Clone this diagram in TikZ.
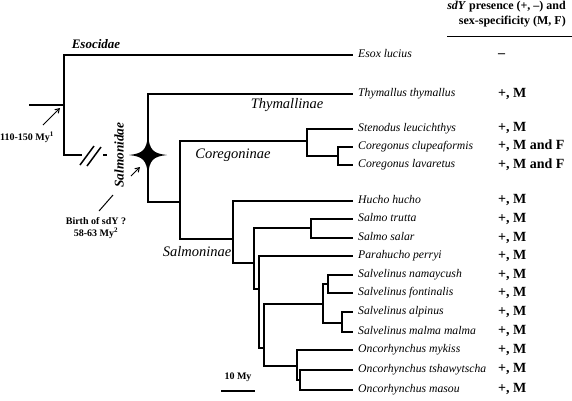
\documentclass[tikz,border=0pt]{standalone}
\usepackage{fontspec}
\setmainfont{Liberation Serif}
\usetikzlibrary{arrows.meta}
\begin{document}
\begin{tikzpicture}[x=1pt,y=-1pt,
  branch/.style={line width=1.7pt},
  leaf/.style={anchor=west, inner xsep=5pt, inner ysep=0pt, font=\itshape\fontsize{11.7}{13}\selectfont, text height=1.6ex, text depth=.3ex},
  val/.style={anchor=west, inner sep=0pt, font=\bfseries\fontsize{14}{16}\selectfont, text height=1.6ex, text depth=.3ex},
  clade/.style={font=\itshape\fontsize{14.5}{16}\selectfont, inner sep=0pt},
  note/.style={font=\bfseries\fontsize{10}{11.5}\selectfont, inner sep=0pt, align=center},
  pointer/.style={line width=1pt, -{Straight Barb[length=4pt,width=5pt]}},
  breakmark/.style={line width=1.5pt}
]
\useasboundingbox (0,0) rectangle (572,400);
\fill[white] (0,0) rectangle (572,400);

% header
\node[anchor=north east, align=right, inner sep=0pt, font=\bfseries\fontsize{12}{15}\selectfont] (hdr) at (566,1) {\textit{sdY} presence (+, --) and\\sex-specificity (M, F)};
\draw[line width=1pt] (447,36) -- (572,36);

% leaves
\node[leaf] (esox) at (353,55) {Esox lucius};
\node[leaf] (thym) at (353,94) {Thymallus thymallus};
\node[leaf] (sten) at (353,129) {Stenodus leucichthys};
\node[leaf] (clup) at (353,147) {Coregonus clupeaformis};
\node[leaf] (lav) at (353,165) {Coregonus lavaretus};
\node[leaf] (hucho) at (353,201) {Hucho hucho};
\node[leaf] (trutta) at (353,219) {Salmo trutta};
\node[leaf] (salar) at (353,238) {Salmo salar};
\node[leaf] (para) at (353,256) {Parahucho perryi};
\node[leaf] (namay) at (353,275) {Salvelinus namaycush};
\node[leaf] (fonti) at (353,293) {Salvelinus fontinalis};
\node[leaf] (alpin) at (353,312) {Salvelinus alpinus};
\node[leaf] (malma) at (353,332) {Salvelinus malma malma};
\node[leaf] (mykiss) at (353,350) {Oncorhynchus mykiss};
\node[leaf] (tshaw) at (353,370) {Oncorhynchus tshawytscha};
\node[leaf] (masou) at (353,390) {Oncorhynchus masou};

% values
\node[val] (vesox) at (498,55) {--};
\node[val] (vthym) at (498,95) {+, M};
\node[val] (vsten) at (498,129) {+, M};
\node[val] (vclup) at (498,147) {+, M and F};
\node[val] (vlav) at (498,166) {+, M and F};
\node[val] (vhucho) at (498,201) {+, M};
\node[val] (vtrutta) at (498,220) {+, M};
\node[val] (vsalar) at (498,239) {+, M};
\node[val] (vpara) at (498,257) {+, M};
\node[val] (vnamay) at (498,276) {+, M};
\node[val] (vfonti) at (498,294) {+, M};
\node[val] (valpin) at (498,313) {+, M};
\node[val] (vmalma) at (498,332) {+, M};
\node[val] (vmykiss) at (498,351) {+, M};
\node[val] (vtshaw) at (498,370) {+, M};
\node[val] (vmasou) at (498,390) {+, M};

% internal nodes
\coordinate (root) at (29,105);
\coordinate (n0) at (64,105);
\coordinate (brk) at (82,155);
\coordinate (sal) at (148,155);
\coordinate (n2) at (180,202);
\coordinate (n3) at (307,141);
\coordinate (n4) at (338,156);
\coordinate (n5) at (233,239);
\coordinate (n6) at (254,263);
\coordinate (n7) at (311,228);
\coordinate (n8) at (259,289);
\coordinate (n9) at (264,348);
\coordinate (n10) at (323,304);
\coordinate (n11) at (328,284);
\coordinate (n12) at (342,323);
\coordinate (n13) at (297,366);
\coordinate (n14) at (300,380);

% branches
\draw[branch] (root) -- (n0);
\draw[branch] (n0) |- (esox.west);
\draw[branch] (n0) |- (brk);
\draw[branch] (sal) |- (thym.west);
\draw[branch] (sal) |- (n2);
\draw[branch] (n2) |- (n3);
\draw[branch] (n2) |- (n5);
\draw[branch] (n3) |- (sten.west);
\draw[branch] (n3) |- (n4);
\draw[branch] (n4) |- (clup.west);
\draw[branch] (n4) |- (lav.west);
\draw[branch] (n5) |- (hucho.west);
\draw[branch] (n5) |- (n6);
\draw[branch] (n6) |- (n7);
\draw[branch] (n6) |- (n8);
\draw[branch] (n7) |- (trutta.west);
\draw[branch] (n7) |- (salar.west);
\draw[branch] (n8) |- (para.west);
\draw[branch] (n8) |- (n9);
\draw[branch] (n9) |- (n10);
\draw[branch] (n9) |- (n13);
\draw[branch] (n10) |- (n11);
\draw[branch] (n10) |- (n12);
\draw[branch] (n11) |- (namay.west);
\draw[branch] (n11) |- (fonti.west);
\draw[branch] (n12) |- (alpin.west);
\draw[branch] (n12) |- (malma.west);
\draw[branch] (n13) |- (mykiss.west);
\draw[branch] (n13) |- (n14);
\draw[branch] (n14) |- (tshaw.west);
\draw[branch] (n14) |- (masou.west);

% break marks
\draw[breakmark] (80,165) -- (94,146);
\draw[breakmark] (87,166) -- (101,147);
\draw[breakmark] (103,155) -- (107,155);

% star
\fill[shift={(148,155)}] (-19,0) .. controls (-5,-1.5) and (-1.5,-5) .. (0,-20)
  .. controls (1.5,-5) and (5,-1.5) .. (19,0)
  .. controls (5,1.5) and (1.5,5) .. (0,20)
  .. controls (-1.5,5) and (-5,1.5) .. (-19,0) -- cycle;

% labels
\node[font=\bfseries\itshape\fontsize{13}{15}\selectfont, inner sep=0pt] (esocidae) at (96,44) {Esocidae};
\node[clade] (thymallinae) at (287,105) {Thymallinae};
\node[clade] (coregoninae) at (233,155) {Coregoninae};
\node[clade] (salmoninae) at (197,252) {Salmoninae};
\node[rotate=90, inner sep=0pt, font=\bfseries\itshape\fontsize{13.3}{15}\selectfont] (salmonidae) at (119,155) {Salmonidae};
\node[note, anchor=west] (age) at (0,137) {110-150 My\textsuperscript{1}};
\node[note] (birth) at (96,228) {Birth of sdY ?\\58-63 My\textsuperscript{2}};

% pointers
\coordinate (a1s) at (43,125);
\coordinate (a1e) at (60,108);
\draw[pointer] (a1s) -- (a1e);
\coordinate (a2s) at (131,176);
\coordinate (a2e) at (140,167);
\draw[pointer] (a2s) -- (a2e);
\coordinate (l1s) at (99,211);
\coordinate (l1e) at (113,195);
\draw[line width=1pt] (l1s) -- (l1e);

% scale bar
\node[note] (scalelbl) at (238,377) {10 My};
\coordinate (sb1) at (221,391);
\coordinate (sb2) at (255,391);
\draw[line width=1.5pt] (sb1) -- (sb2);
\end{tikzpicture}
\end{document}
